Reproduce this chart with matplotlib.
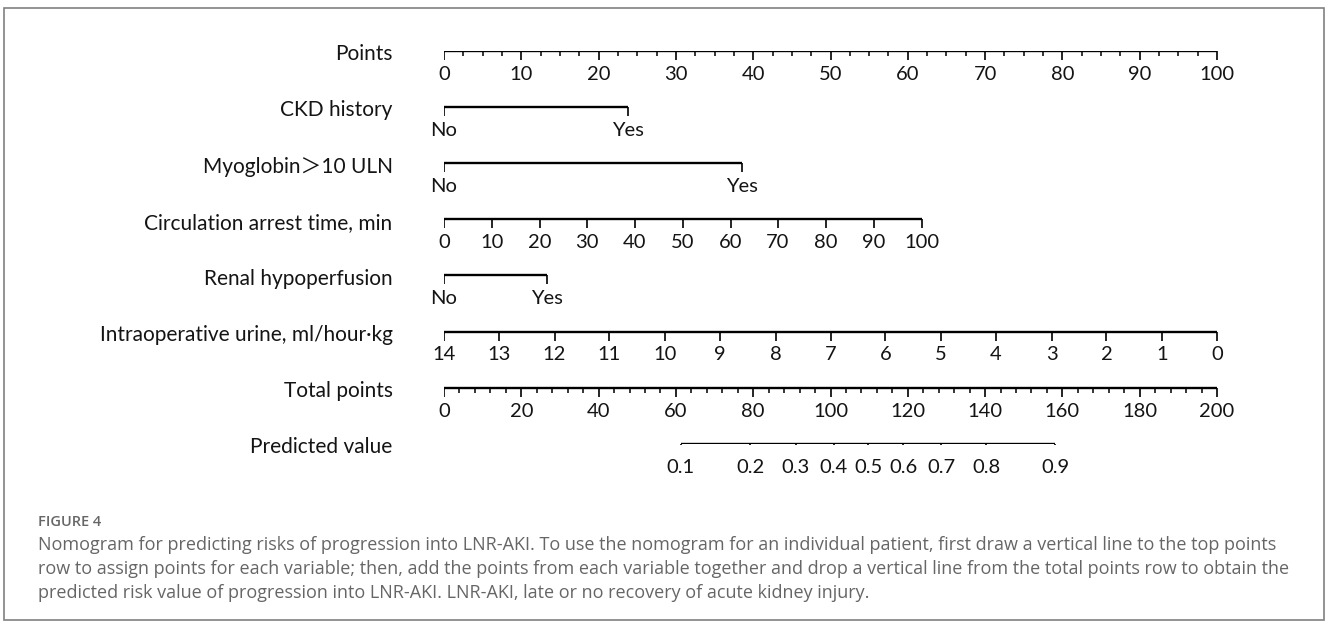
import matplotlib
matplotlib.use("Agg")
import matplotlib.pyplot as plt
from matplotlib.patches import Rectangle

# nomogram rows (top to bottom)
row_names = ["Points", "CKD history", "Myoglobin\uff1e10 ULN",
             "Circulation arrest time, min", "Renal hypoperfusion",
             "Intraoperative urine, ml/hour\u00b7kg", "Total points", "Predicted value"]

points_labels = ["0", "10", "20", "30", "40", "50", "60", "70", "80", "90", "100"]
points_pos = [0, 10, 20, 30, 40, 50, 60, 70, 80, 90, 100]
points_minor = [2.5, 5, 7.5, 12.5, 15, 17.5, 22.5, 25, 27.5, 32.5, 35, 37.5, 42.5, 45, 47.5,
                52.5, 55, 57.5, 62.5, 65, 67.5, 72.5, 75, 77.5, 82.5, 85, 87.5, 92.5, 95, 97.5]

ckd_labels = ["No", "Yes"]
ckd_pos = [0, 23.8]

myo_labels = ["No", "Yes"]
myo_pos = [0, 38.6]

circ_labels = ["0", "10", "20", "30", "40", "50", "60", "70", "80", "90", "100"]
circ_pos = [0, 6.2, 12.4, 18.5, 24.7, 30.9, 37.1, 43.2, 49.4, 55.6, 61.8]

renal_labels = ["No", "Yes"]
renal_pos = [0, 13.3]

urine_labels = ["14", "13", "12", "11", "10", "9", "8", "7", "6", "5", "4", "3", "2", "1", "0"]
urine_pos = [0, 7.1, 14.3, 21.4, 28.6, 35.7, 42.9, 50.0, 57.1, 64.3, 71.4, 78.6, 85.7, 92.9, 100]

total_labels = ["0", "20", "40", "60", "80", "100", "120", "140", "160", "180", "200"]
total_vals = [0, 20, 40, 60, 80, 100, 120, 140, 160, 180, 200]
total_minor = [4, 8, 12, 16, 24, 28, 32, 36, 44, 48, 52, 56, 64, 68, 72, 76, 84, 88, 92, 96,
               104, 108, 112, 116, 124, 128, 132, 136, 144, 148, 152, 156, 164, 168, 172, 176,
               184, 188, 192, 196]

pred_labels = ["0.1", "0.2", "0.3", "0.4", "0.5", "0.6", "0.7", "0.8", "0.9"]
pred_total = [61.2, 79.2, 91.0, 100.8, 109.8, 118.8, 128.6, 140.3, 158.2]

caption_title = "FIGURE 4"
caption_lines = [
    "Nomogram for predicting risks of progression into LNR-AKI. To use the nomogram for an individual patient, first draw a vertical line to the top points",
    "row to assign points for each variable; then, add the points from each variable together and drop a vertical line from the total points row to obtain the",
    "predicted risk value of progression into LNR-AKI. LNR-AKI, late or no recovery of acute kidney injury.",
]

W, H = 1328, 624
fig = plt.figure(figsize=(W / 100, H / 100), dpi=100)
font = ["Lato", "Noto Sans CJK SC", "DejaVu Sans"]
txt_color = "#141414"

ax = fig.add_axes([444 / W, 1 - 444 / H, (1217 - 444) / W, (444 - 50.7) / H])
ax.set_xlim(0, 100)
ax.set_ylim(7, 0)
ax.axis("off")

# total points mapped onto the 0-100 points scale
half = 100 / 200
rows = [
    (points_pos, points_labels, points_minor),
    (ckd_pos, ckd_labels, []),
    (myo_pos, myo_labels, []),
    (circ_pos, circ_labels, []),
    (renal_pos, renal_labels, []),
    (urine_pos, urine_labels, []),
    ([v * half for v in total_vals], total_labels, [v * half for v in total_minor]),
    ([v * half for v in pred_total], pred_labels, []),
]

for i, (pos, labels, minor) in enumerate(rows):
    y = i
    ax.plot([min(pos), max(pos)], [y, y], color="black", lw=1.7, solid_capstyle="butt")
    ax.plot(pos, [y] * len(pos), ls="none", marker=3, ms=6.5, mew=1.2, color="black")
    if minor:
        ax.plot(minor, [y] * len(minor), ls="none", marker=3, ms=3.3, mew=1.1, color="black")
    for p, lab in zip(pos, labels):
        ax.annotate(lab, xy=(p, y), xytext=(0, -16.8), textcoords="offset points",
                    ha="center", va="center", fontsize=14.5, family=font, color=txt_color,
                    annotation_clip=False)
    ax.annotate(row_names[i], xy=(0, y), xytext=(-37, -2.5), textcoords="offset points",
                ha="right", va="center", fontsize=15, family=font, color=txt_color,
                annotation_clip=False)

# frame and caption
fig.patches.append(Rectangle((4 / W, 1 - 620 / H), 1320 / W, 612 / H, transform=fig.transFigure,
                             fill=False, edgecolor="#808080", lw=1.2))
fig.text(38 / W, 1 - 522 / H, caption_title, fontsize=10.5, fontweight="semibold",
         family=["Open Sans", "DejaVu Sans"], color="#666666", va="center", ha="left")
for k, line in enumerate(caption_lines):
    fig.text(38 / W, 1 - (545 + 24 * k) / H, line, fontsize=13,
             family=["Open Sans", "DejaVu Sans"], color="#666666", va="center", ha="left")

fig.savefig("out.png", dpi=100)
